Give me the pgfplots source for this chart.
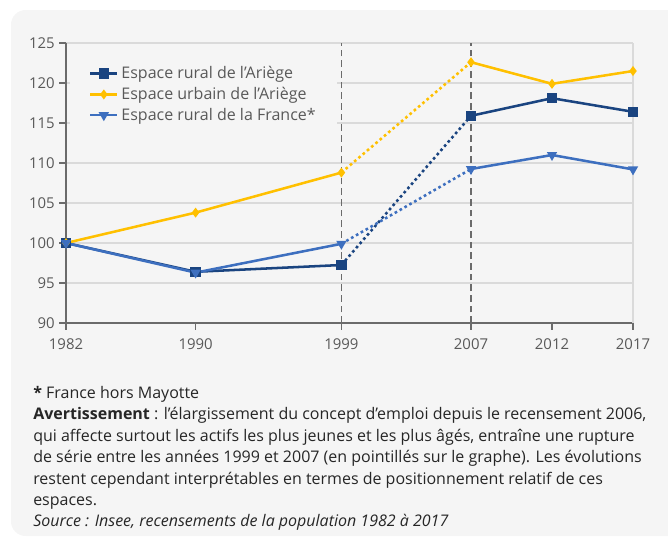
\documentclass[border=0pt]{standalone}
\usepackage{fontspec}
\setmainfont{Open Sans}
\usepackage{pgfplots}
\usepackage{pgfplotstable}
\pgfplotsset{compat=1.18}

\definecolor{panel}{HTML}{F5F5F5}
\definecolor{ruralA}{HTML}{1A4480}
\definecolor{urbainA}{HTML}{FFC000}
\definecolor{ruralF}{HTML}{3D6FBF}
\definecolor{txt}{HTML}{595959}
\definecolor{axisdark}{HTML}{6B6B6B}
\definecolor{gridc}{HTML}{DADADA}

% indices base 100 en 1982
\pgfplotstableread{
annee rA    uA    rF
1982  100   100   100
1990  96.4  103.8 96.3
1999  97.25 108.8 99.9
2007  115.9 122.6 109.25
2012  118.1 119.9 111.0
2017  116.4 121.5 109.2
}\emploi

\begin{document}
\begin{tikzpicture}
\begin{scope}[x=0.75pt,y=-0.75pt]
  \path[use as bounding box] (0,0) rectangle (668,539);
  \fill[panel, rounded corners=11pt] (11,10) rectangle (690,536);
  \coordinate (axsw) at (66,323);
\end{scope}

\begin{axis}[
  at={(axsw)}, anchor=south west,
  scale only axis, width=425.25pt, height=210pt,
  xmin=1982, xmax=2017, ymin=90, ymax=125,
  xtick={1982,1990,1999,2007,2012,2017},
  ytick={90,95,...,125},
  xticklabel style={/pgf/number format/1000 sep={}, yshift=-3.5pt},
  /pgf/number format/assume math mode=true,
  ticklabel style={font=\fontsize{11.2}{13}\selectfont, text=txt},
  axis lines*=left,
  axis line style={axisdark, line width=1pt},
  tick style={axisdark, line width=1pt},
  tick align=outside, major tick length=5pt,
  ymajorgrids, grid style={gridc, line width=0.9pt},
  clip=false,
  legend cell align=left,
  legend style={at={(rel axis cs:0.007,0.955)}, anchor=north west,
    fill=panel, draw=none, font=\fontsize{12}{14}\selectfont, text=txt,
    row sep=0.9pt, inner xsep=14pt, inner ysep=6pt},
  legend image code/.code={\draw[mark repeat=2,mark phase=2,#1]
    plot coordinates {(0cm,0cm) (0.36cm,0cm) (0.72cm,0cm)};},
  every axis plot/.append style={line width=1.9pt},
]
% bord droit et repères de rupture
\draw[gridc, line width=0.9pt] (axis cs:2017,90) -- (axis cs:2017,125);
\draw[axisdark, line width=0.8pt, dash pattern=on 5pt off 3pt] (axis cs:1999,90) -- (axis cs:1999,125);
\draw[axisdark, line width=0.8pt, dash pattern=on 5pt off 3pt] (axis cs:2007,90) -- (axis cs:2007,125);

% segments en pointillés 1999-2007
\addplot[forget plot, ruralA, no marks, dash pattern=on 2pt off 2.2pt, restrict x to domain=1999:2007] table[x=annee,y=rA] {\emploi};
\addplot[forget plot, urbainA, no marks, dash pattern=on 2pt off 2.2pt, restrict x to domain=1999:2007] table[x=annee,y=uA] {\emploi};
\addplot[forget plot, ruralF, no marks, dash pattern=on 2pt off 2.2pt, restrict x to domain=1999:2007] table[x=annee,y=rF] {\emploi};

\addplot[ruralA, mark=square*, mark size=3pt, restrict x to domain=1982:1999] table[x=annee,y=rA] {\emploi};
\addlegendentry{Espace rural de l’Ariège}
\addplot[urbainA, mark=diamond*, mark size=2.2pt, restrict x to domain=1982:1999] table[x=annee,y=uA] {\emploi};
\addlegendentry{Espace urbain de l’Ariège}
\addplot[ruralF, mark=triangle*, mark options={rotate=180}, mark size=2.6pt, restrict x to domain=1982:1999] table[x=annee,y=rF] {\emploi};
\addlegendentry{Espace rural de la France*}

\addplot[forget plot, ruralA, mark=square*, mark size=3pt, restrict x to domain=2007:2017] table[x=annee,y=rA] {\emploi};
\addplot[forget plot, urbainA, mark=diamond*, mark size=2.2pt, restrict x to domain=2007:2017] table[x=annee,y=uA] {\emploi};
\addplot[forget plot, ruralF, mark=triangle*, mark options={rotate=180}, mark size=2.6pt, restrict x to domain=2007:2017] table[x=annee,y=rF] {\emploi};
\end{axis}

\begin{scope}[x=0.75pt,y=-0.75pt, every node/.style={anchor=base west, inner sep=0pt, font=\fontsize{12}{14}\selectfont, text=black!85}]
  \node at (33,398) {\textbf{*} France hors Mayotte};
  \node at (33,419.5) {\textbf{Avertissement} : l’élargissement du concept d’emploi depuis le recensement 2006,};
  \node at (33,441) {qui affecte surtout les actifs les plus jeunes et les plus âgés, entraîne une rupture};
  \node at (33,462.5) {de série entre les années 1999 et 2007 (en pointillés sur le graphe). Les évolutions};
  \node at (33,484) {restent cependant interprétables en termes de positionnement relatif de ces};
  \node at (33,505) {espaces.};
  \node at (33,526) {\textit{Source : Insee, recensements de la population 1982 à 2017}};
\end{scope}
\end{tikzpicture}
\end{document}
